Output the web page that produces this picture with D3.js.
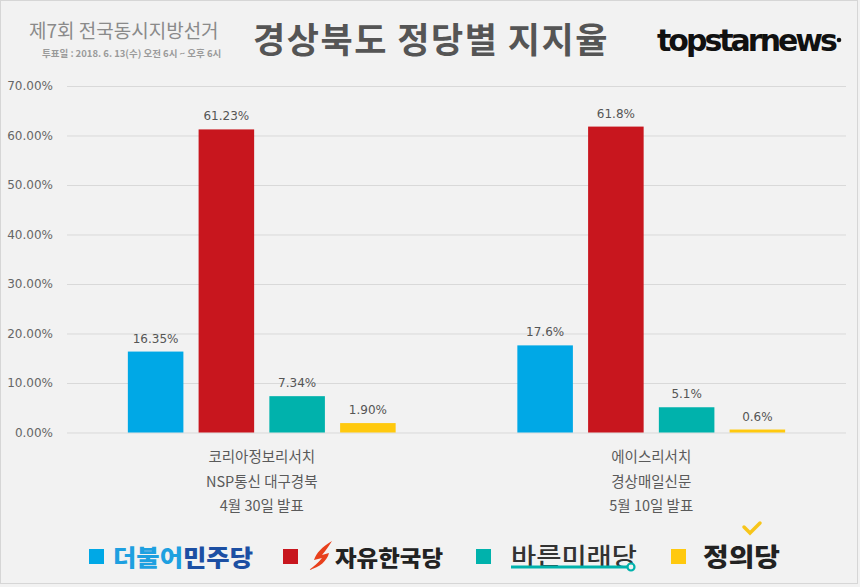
<!DOCTYPE html>
<html><head><meta charset="utf-8">
<script src="https://cdn.jsdelivr.net/npm/d3@7"></script>
<style>
html,body{margin:0;padding:0;background:#f2f2f2;}
svg{display:block;}
</style></head>
<body>
<svg id="c" width="860" height="587"></svg>
<script>
// ---- data ----
const pollLabels = [
  ["코리아정보리서치", "NSP통신 대구경북", "4월 30일 발표"],
  ["에이스리서치", "경상매일신문", "5월 10일 발표"]
];
const parties = ["더불어민주당", "자유한국당", "바른미래당", "정의당"];
const partyColors = ["#00a8e6", "#c8161e", "#00b2ac", "#ffc90e"];
const poll1Values = [16.35, 61.23, 7.34, 1.90];
const poll2Values = [17.6, 61.8, 5.1, 0.6];
const poll1Text = ["16.35%", "61.23%", "7.34%", "1.90%"];
const poll2Text = ["17.6%", "61.8%", "5.1%", "0.6%"];
const yTicks = [0, 10, 20, 30, 40, 50, 60, 70];
const yTickLabels = ["0.00%", "10.00%", "20.00%", "30.00%", "40.00%", "50.00%", "60.00%", "70.00%"];

const polls = [
  {key: 0, values: poll1Values, text: poll1Text},
  {key: 1, values: poll2Values, text: poll2Text}
];

const svg = d3.select("#c");
const KR = "'Noto Sans CJK KR', 'Noto Sans', sans-serif";

// background + border
svg.append("rect").attr("x", 0.5).attr("y", 0.5).attr("width", 857).attr("height", 583)
  .attr("fill", "#f2f2f2").attr("stroke", "#d6d6d6");

// ---- header ----
svg.append("text").attr("x", 29).attr("y", 38).attr("font-family", KR).attr("font-size", 19)
  .attr("fill", "#8a8a8a").text("제7회 전국동시지방선거");
svg.append("text").attr("x", 42).attr("y", 57).attr("font-family", KR).attr("font-size", 9.5)
  .attr("font-weight", 700).attr("fill", "#9a9a9a").text("투표일 : 2018. 6. 13(수) 오전 6시 ~ 오후 6시");
svg.append("text").attr("x", 431).attr("y", 53).attr("text-anchor", "middle").attr("font-family", KR)
  .attr("font-size", 35).attr("font-weight", 700).attr("fill", "#555").attr("letter-spacing", 1.5)
  .text("경상북도 정당별 지지율");
svg.append("text").attr("x", 657).attr("y", 51).attr("font-family", "'DejaVu Sans', sans-serif")
  .attr("font-size", 30).attr("font-weight", 700).attr("fill", "#111")
  .attr("letter-spacing", -3).text("topstarnews");
svg.append("circle").attr("cx", 839).attr("cy", 40).attr("r", 2.3).attr("fill", "#111");

// ---- scales ----
const y = d3.scaleLinear().domain([0, 70]).range([432.5, 86]);
const x0 = d3.scaleBand().domain(polls.map(d => d.key)).range([67, 846]).padding(0);
const x1 = d3.scaleBand().domain(d3.range(parties.length)).range([0, x0.bandwidth()])
  .paddingInner(0.215).paddingOuter(0.86);

// gridlines + y axis labels
const yAxis = d3.axisLeft(y).tickValues(yTicks).tickSize(-(846 - 67)).tickPadding(14)
  .tickFormat((d, i) => yTickLabels[i]);
const gy = svg.append("g").attr("transform", "translate(67,0)").call(yAxis);
gy.select(".domain").remove();
gy.selectAll(".tick line").attr("stroke", "#d9d9d9").attr("stroke-width", 1);
gy.selectAll(".tick text").attr("font-family", "'DejaVu Sans', sans-serif").attr("font-size", 12)
  .attr("fill", "#666");

// bars
const groups = svg.selectAll("g.poll").data(polls).enter().append("g").attr("class", "poll")
  .attr("transform", d => `translate(${x0(d.key)},0)`);
groups.selectAll("rect").data(d => d.values.map((v, i) => ({v, i}))).enter().append("rect")
  .attr("x", d => x1(d.i)).attr("width", x1.bandwidth())
  .attr("y", d => y(d.v)).attr("height", d => y(0) - y(d.v))
  .attr("fill", d => partyColors[d.i]);
groups.selectAll("text.val").data(d => d.values.map((v, i) => ({v, i, t: d.text[i]}))).enter()
  .append("text").attr("class", "val")
  .attr("x", d => x1(d.i) + x1.bandwidth() / 2).attr("y", d => y(d.v) - 9)
  .attr("text-anchor", "middle").attr("font-family", "'DejaVu Sans', sans-serif").attr("font-size", 12)
  .attr("fill", "#555").text(d => d.t);

// category labels
groups.each(function(d) {
  const g = d3.select(this);
  const cx = x0.bandwidth() / 2;
  pollLabels[d.key].forEach((line, j) => {
    g.append("text").attr("x", cx).attr("y", 462 + j * 24.5).attr("text-anchor", "middle")
      .attr("font-family", KR).attr("font-size", 14.5).attr("fill", "#5a5a5a").text(line);
  });
});

// ---- legend ----
const legendX = [89, 283, 476, 671];
const legend = svg.append("g");
legendX.forEach((lx, i) => {
  legend.append("rect").attr("x", lx).attr("y", 549).attr("width", 15).attr("height", 15)
    .attr("fill", partyColors[i]);
});
// 더불어민주당
const t0 = legend.append("text").attr("x", 113).attr("y", 566).attr("font-family", KR)
  .attr("font-size", 23).attr("font-weight", 900).attr("textLength", 140).attr("lengthAdjust", "spacingAndGlyphs");
t0.append("tspan").attr("fill", "#1ea0e0").text("더불어");
t0.append("tspan").attr("fill", "#1c4fa3").text("민주당");
// 자유한국당 with flame
legend.append("path")
  .attr("d", "M332,541 C322,547 316,553 314,560 L322,558 C318,563 314,566 309,570 C320,567 327,561 329,553 L322,555 C326,550 329,546 332,541 Z")
  .attr("fill", "#e8401c");
legend.append("text").attr("x", 335).attr("y", 566).attr("font-family", KR)
  .attr("font-size", 22).attr("font-weight", 900).attr("fill", "#222")
  .attr("textLength", 108).attr("lengthAdjust", "spacingAndGlyphs").text("자유한국당");
// 바른미래당
legend.append("text").attr("x", 511).attr("y", 565).attr("font-family", KR)
  .attr("font-size", 24).attr("font-weight", 500).attr("fill", "#333")
  .attr("textLength", 126).attr("lengthAdjust", "spacingAndGlyphs").text("바른미래당");
legend.append("line").attr("x1", 511).attr("x2", 627).attr("y1", 567).attr("y2", 567)
  .attr("stroke", "#00b2ac").attr("stroke-width", 3);
legend.append("circle").attr("cx", 631).attr("cy", 567).attr("r", 3.5).attr("fill", "#f2f2f2")
  .attr("stroke", "#00b2ac").attr("stroke-width", 2.2);
// 정의당
legend.append("text").attr("x", 703).attr("y", 566).attr("font-family", KR)
  .attr("font-size", 25).attr("font-weight", 900).attr("fill", "#222")
  .attr("textLength", 77).attr("lengthAdjust", "spacingAndGlyphs").text("정의당");
legend.append("path").attr("d", "M744,527 L750,533 L760,523")
  .attr("fill", "none").attr("stroke", "#f7c51a").attr("stroke-width", 3.5).attr("stroke-linecap", "round");
</script>
</body></html>
